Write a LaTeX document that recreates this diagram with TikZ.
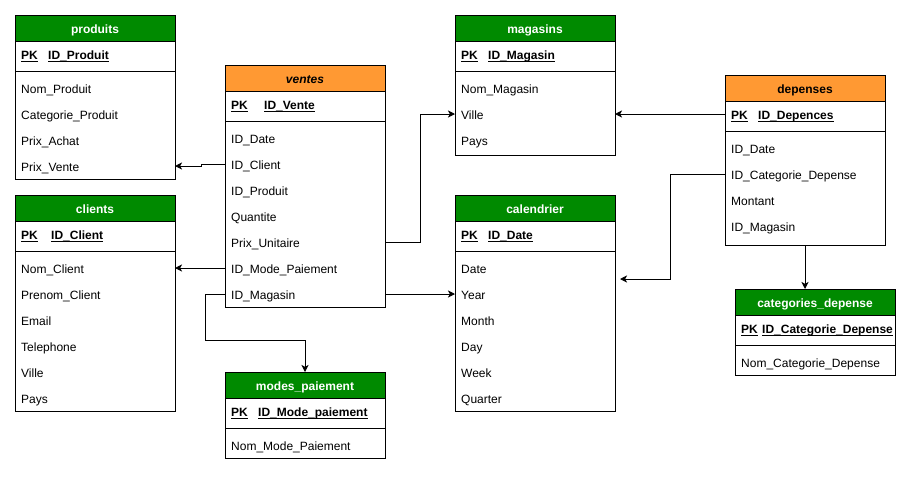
\documentclass[tikz,border=0pt]{standalone}
\usepackage{fontspec}
\setmainfont{Liberation Sans}
\usetikzlibrary{arrows.meta,calc}
\definecolor{hdgreen}{HTML}{008A00}
\definecolor{hdorange}{HTML}{FF9933}
\newcommand\myul[1]{\setbox0\hbox{#1}\rlap{\rule[-2.2pt]{\wd0}{1pt}}#1}
\newcommand\ertab[8]{% name, x, top, bottom, fill, title, title color, id offset
  \node[tabbox, minimum height={(#4-#3)*1pt}] (#1) at (#2,#3) {};
  \node[tabbox, fill=#5, minimum height=26pt, text height=11.5pt, text depth=0pt, text=#7, font=\fontsize{12}{14}\selectfont\bfseries] (#1-h) at (#2,#3) {#6};
  \draw[line width=1pt] (#2,#3+56) -- ++(160,0);
  \node[txt, font=\fontsize{12}{14}\selectfont\bfseries] (#1-pkl) at (#2+6,#3+39) {\myul{PK}};
  \gdef\eroff{#8}%
}
\newcommand\erpk[4]{% name, x, top, text
  \node[txt, font=\fontsize{12}{14}\selectfont\bfseries] (#1-pk) at (#2+\eroff,#3+39) {\myul{#4}};
}
\newcommand\erfields[4]{% name, x, top, list
  \foreach \t [count=\i] in {#4}
    \node[txt] (#1-f\i) at (#2+6,#3+47+26*\i) {\t};
}
\begin{document}
\begin{tikzpicture}[x=1pt,y=-1pt,
  tabbox/.style={draw, line width=1pt, anchor=north west, minimum width=160pt, inner sep=0pt, outer sep=0pt},
  txt/.style={anchor=west, inner sep=0pt, text height=11.6pt, text depth=0pt, font=\fontsize{12}{14}\selectfont},
  conn/.style={line width=1pt, -{Stealth[length=7pt,width=7pt,inset=1.8pt]}}]
\useasboundingbox (0,0) rectangle (911,477);

% produits
\ertab{produits}{15}{15}{179}{hdgreen}{produits}{white}{33}
\erpk{produits}{15}{15}{ID\_Produit}
\erfields{produits}{15}{15}{Nom\_Produit,Categorie\_Produit,Prix\_Achat,Prix\_Vente}

% ventes
\ertab{ventes}{225}{65}{307}{hdorange}{\itshape ventes}{black}{39}
\erpk{ventes}{225}{65}{ID\_Vente}
\erfields{ventes}{225}{65}{ID\_Date,ID\_Client,ID\_Produit,Quantite,Prix\_Unitaire,ID\_Mode\_Paiement,ID\_Magasin}

% magasins
\ertab{magasins}{455}{15}{155}{hdgreen}{magasins}{white}{33}
\erpk{magasins}{455}{15}{ID\_Magasin}
\erfields{magasins}{455}{15}{Nom\_Magasin,Ville,Pays}

% depenses
\ertab{depenses}{725}{75}{245}{hdorange}{depenses}{black}{33}
\erpk{depenses}{725}{75}{ID\_Depences}
\erfields{depenses}{725}{75}{ID\_Date,ID\_Categorie\_Depense,Montant,ID\_Magasin}

% clients
\ertab{clients}{15}{195}{411}{hdgreen}{clients}{white}{36}
\erpk{clients}{15}{195}{ID\_Client}
\erfields{clients}{15}{195}{Nom\_Client,Prenom\_Client,Email,Telephone,Ville,Pays}

% calendrier
\ertab{calendrier}{455}{195}{411}{hdgreen}{calendrier}{white}{33}
\erpk{calendrier}{455}{195}{ID\_Date}
\erfields{calendrier}{455}{195}{Date,Year,Month,Day,Week,Quarter}

% modes_paiement
\ertab{modes}{225}{372}{458}{hdgreen}{modes\_paiement}{white}{33}
\erpk{modes}{225}{372}{ID\_Mode\_paiement}
\erfields{modes}{225}{372}{Nom\_Mode\_Paiement}

% categories_depense
\ertab{catdep}{735}{289}{375}{hdgreen}{categories\_depense}{white}{27}
\erpk{catdep}{735}{289}{ID\_Categorie\_Depense}
\erfields{catdep}{735}{289}{Nom\_Categorie\_Depense}

\coordinate (cal-in) at (620,279);

% connectors
\draw[conn] (ventes.west |- ventes-f2) -- ++(-24,0) -- ++(0,2) -- (produits.east |- produits-f4);
\draw[conn] (ventes.west |- ventes-f6) -- (clients.east |- clients-f1);
\draw[conn] (ventes.west |- ventes-f7) -- ++(-20,0) -- ++(0,46) -| (modes.north);
\draw[conn] (ventes.east |- ventes-f5) -- ++(35,0) |- (magasins.west |- magasins-f2);
\draw[conn] (ventes.east |- ventes-f7) -- (calendrier.west |- calendrier-f2);
\draw[conn] (depenses.west |- depenses-pk) -- (magasins.east |- magasins-f2);
\draw[conn] (depenses.west |- depenses-f2) -- ++(-55,0) |- (cal-in);
\draw[conn] (depenses.south) -- (depenses.south |- catdep.north);
\end{tikzpicture}
\end{document}
